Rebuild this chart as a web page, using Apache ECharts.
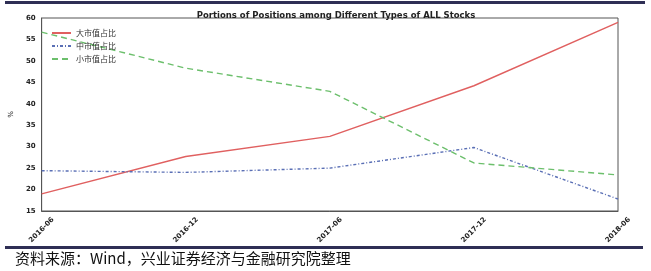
<!DOCTYPE html>
<html><head><meta charset="utf-8">
<script src="https://cdn.jsdelivr.net/npm/echarts@6/dist/echarts.min.js"></script>
<style>html,body{margin:0;padding:0;background:#fff}#c{width:651px;height:271px}</style>
</head><body><div id="c"></div>
<script>
const categories = ['2016-06','2016-12','2017-06','2017-12','2018-06'];
const largeCap = [19.0, 27.7, 32.4, 44.2, 59.0];
const midCap   = [24.4, 24.0, 25.0, 29.8, 17.8];
const smallCap = [56.7, 48.3, 42.9, 26.2, 23.4];
const seriesNames = ['大市值占比','中市值占比','小市值占比'];
const yTicks = {min: 15, max: 60, interval: 5};

const chart = echarts.init(document.getElementById('c'), null, {renderer:'canvas'});
chart.setOption({
  animation: false,
  backgroundColor: '#fff',
  title: {
    text: 'Portions of Positions among Different Types of ALL Stocks',
    left: 331, top: 6, textAlign: 'center',
    textStyle: {fontFamily: 'DejaVu Sans', fontWeight: 'bold', fontSize: 8.5, color: '#222'}
  },
  legend: {
    orient: 'vertical', left: 46, top: 24, itemGap: 5, itemWidth: 19, itemHeight: 8,
    itemStyle: {opacity: 0},
    textStyle: {fontFamily: 'Noto Sans CJK SC', fontSize: 8, color: '#333'},
    data: seriesNames
  },
  grid: {left: 40, right: 33, top: 18, bottom: 60, show: true, borderColor: '#555', borderWidth: 1},
  xAxis: {
    type: 'category', data: categories, boundaryGap: false,
    axisLine: {lineStyle: {color: '#555'}},
    axisTick: {show: false},
    axisLabel: {rotate: 45, align: 'center', verticalAlign: 'middle', margin: 19,
      fontFamily: 'DejaVu Sans', fontWeight: 'bold', fontSize: 7, color: '#222'},
    splitLine: {show: false}
  },
  yAxis: {
    type: 'value', min: yTicks.min, max: yTicks.max, interval: yTicks.interval,
    name: '%', nameLocation: 'middle', nameGap: 17, nameRotate: 90,
    nameTextStyle: {fontFamily: 'DejaVu Sans', fontSize: 7, color: '#222'},
    axisLine: {show: true, lineStyle: {color: '#555'}},
    axisTick: {show: false},
    axisLabel: {fontFamily: 'DejaVu Sans', fontWeight: 'bold', fontSize: 7, color: '#222', margin: 6},
    splitLine: {show: false}
  },
  series: [
    {name: seriesNames[0], type: 'line', data: largeCap, symbol: 'none',
     lineStyle: {color: '#e06060', width: 1.4, type: 'solid'}, itemStyle: {color: '#e06060'}},
    {name: seriesNames[1], type: 'line', data: midCap, symbol: 'none',
     lineStyle: {color: '#5a6fb5', width: 1.4, type: [3, 2, 1, 2]}, itemStyle: {color: '#5a6fb5'}},
    {name: seriesNames[2], type: 'line', data: smallCap, symbol: 'none',
     lineStyle: {color: '#6cbf6c', width: 1.4, type: [6, 4]}, itemStyle: {color: '#6cbf6c'}}
  ],
  graphic: [
    {type: 'rect', shape: {x: 5, y: 1, width: 640, height: 3}, style: {fill: '#2e2e55'}},
    {type: 'rect', shape: {x: 5, y: 246, width: 638, height: 3}, style: {fill: '#2e2e55'}},
    {type: 'text', left: 15, top: 251,
     style: {text: '资料来源：Wind，兴业证券经济与金融研究院整理', fontFamily: 'Noto Sans CJK SC', fontSize: 15, fill: '#111'}}
  ]
});
</script></body></html>
